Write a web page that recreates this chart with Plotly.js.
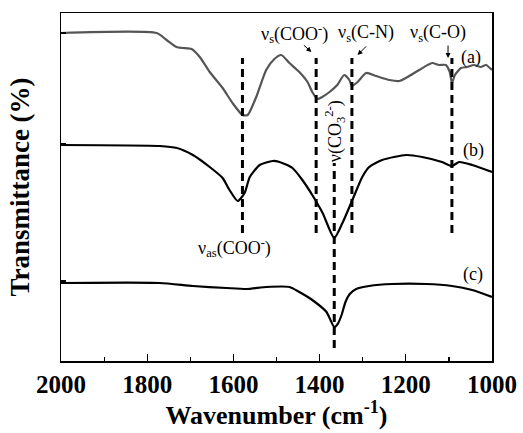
<!DOCTYPE html>
<html>
<head>
<meta charset="utf-8">
<script src="https://cdn.plot.ly/plotly-3.0.1.min.js"></script>
<style>html,body{margin:0;padding:0;background:#fff;}#chart{width:523px;height:433px;}</style>
</head>
<body>
<div id="chart"></div>
<script>
// Wavenumber (cm-1) and transmittance (arbitrary, offset) for each spectrum
const waveA = [2000,1778,1755,1732,1718,1697,1678,1655,1625,1602,1579,1567,1547,1524,1505,1489,1470,1447,1428,1417,1405,1394,1377,1359,1343,1331,1325,1312,1292,1269,1238,1215,1192,1169,1139,1123,1107,1098,1093,1086,1072,1058,1042,1026,1014,1000];
const transA = [327,327,320,313,312,311,303,288,272,257,245,245,263,290,301,305,297,288,278,268,261,263,268,275,285,280,274,278,287,284,280,279,284,290,297,295,295,288,277,285,292,293,295,293,295,290];

const waveB = [2000,1771,1731,1694,1655,1625,1609,1590,1574,1562,1539,1509,1493,1463,1440,1417,1393,1366,1347,1324,1301,1285,1255,1199,1162,1116,1093,1076,1046,1000];
const transB = [215,214,212,205,193,182,170,159,167,183,195,199,198,192,180,165,147,122,137,160,183,193,200,205,203,198,194,198,195,188];

const waveC = [2000,1771,1694,1616,1569,1523,1470,1447,1417,1384,1366,1358,1349,1340,1330,1315,1285,1231,1153,1093,1046,1000];
const transC = [77,77,74,72,71,73,73,68,60,48,33,36,45,58,66,71,74,76,76,74,70,63];

// Band assignments (dashed guide lines): position and vertical extent
const bandPos    = [1579, 1408, 1325, 1093, 1366];
const bandTop    = [302, 302, 302, 302, 197];
const bandBottom = [127, 127, 127, 127, 12];

const seriesLabels = ['(a)', '(b)', '(c)'];
const yTicks = [327, 216, 79];

const serif = 'Liberation Serif, Times New Roman, serif';

const lineStyle = (c) => ({color: c, width: 2.2, shape: 'spline', smoothing: 0.6});
const traces = [
  {x: waveA, y: transA, mode: 'lines', name: seriesLabels[0], line: lineStyle('#555555')},
  {x: waveB, y: transB, mode: 'lines', name: seriesLabels[1], line: lineStyle('#000000')},
  {x: waveC, y: transC, mode: 'lines', name: seriesLabels[2], line: lineStyle('#000000')}
];

const shapes = bandPos.map((p, i) => ({
  type: 'line', xref: 'x', yref: 'y', x0: p, x1: p, y0: bandBottom[i], y1: bandTop[i],
  line: {color: '#000', width: 3, dash: '8px,5px'}
}));

const tf = {family: serif, size: 18, color: '#000'};
const annotations = [
  {x: 1458, y: 327, text: 'ν<sub>s</sub>(COO<sup>-</sup>)', showarrow: false},
  {x: 1292, y: 327, text: 'ν<sub>s</sub>(C-N)', showarrow: false},
  {x: 1125, y: 327, text: 'ν<sub>s</sub>(C-O)', showarrow: false},
  {x: 1049, y: 303, text: seriesLabels[0], showarrow: false},
  {x: 1044, y: 210, text: seriesLabels[1], showarrow: false},
  {x: 1044, y: 86, text: seriesLabels[2], showarrow: false},
  {x: 1597, y: 113, text: 'ν<sub>as</sub>(COO<sup>-</sup>)', showarrow: false},
  {x: 1366, y: 229, text: 'ν(CO<sub>3</sub><sup>2-</sup>)', showarrow: false, textangle: -90},
  {x: 1419, y: 308, text: '', showarrow: true, ax: -9, ay: -8, arrowhead: 2, arrowsize: 1, arrowwidth: 1, arrowcolor: '#000'},
  {x: 1312, y: 305, text: '', showarrow: true, ax: 10, ay: -10, arrowhead: 2, arrowsize: 1, arrowwidth: 1, arrowcolor: '#000'},
  {x: 1102, y: 302, text: '', showarrow: true, ax: 0, ay: -14, arrowhead: 2, arrowsize: 1, arrowwidth: 1, arrowcolor: '#000'}
].map(a => Object.assign({xref: 'x', yref: 'y', font: tf, xanchor: 'center', yanchor: 'middle'}, a));

const layout = {
  width: 523, height: 433,
  margin: {l: 61, r: 31, t: 13, b: 72},
  paper_bgcolor: '#fff', plot_bgcolor: '#fff',
  showlegend: false,
  font: {family: serif, color: '#000'},
  xaxis: {
    range: [2000, 1000], tickvals: [2000,1800,1600,1400,1200,1000],
    ticks: 'inside', ticklen: 7, tickwidth: 1.2, tickcolor: '#000',
    minor: {tickvals: [1900,1700,1500,1300,1100], ticks: 'inside', ticklen: 4, tickwidth: 1.2, tickcolor: '#000'},
    showline: true, mirror: true, linecolor: '#000', linewidth: 1.5,
    showgrid: false, zeroline: false,
    tickfont: {family: serif, size: 25, weight: 'bold', color: '#000'},
    title: {text: 'Wavenumber (cm<sup>-1</sup>)', font: {family: serif, size: 26, weight: 'bold', color: '#000'}, standoff: 0}
  },
  yaxis: {
    range: [-1, 347], tickvals: yTicks, showticklabels: false,
    ticks: 'inside', ticklen: 5, tickwidth: 1.2, tickcolor: '#000',
    showline: true, mirror: true, linecolor: '#000', linewidth: 1.5,
    showgrid: false, zeroline: false,
    title: {text: 'Transmittance (%)', font: {family: serif, size: 27, weight: 'bold', color: '#000'}, standoff: 22}
  },
  shapes: shapes,
  annotations: annotations
};

Plotly.newPlot('chart', traces, layout, {displayModeBar: false, staticPlot: true});
</script>
</body>
</html>
